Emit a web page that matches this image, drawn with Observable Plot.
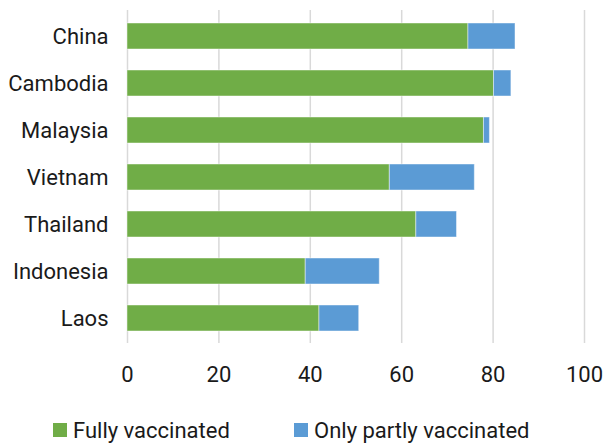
<!DOCTYPE html>
<html>
<head>
<meta charset="utf-8">
<script src="https://cdn.jsdelivr.net/npm/d3@7"></script>
<script src="https://cdn.jsdelivr.net/npm/@observablehq/plot@0.6"></script>
<style>
  body { margin: 0; background: #fff; font-family: Roboto, "Liberation Sans", sans-serif; position: relative; width: 603px; height: 443px; overflow: hidden; }
  .item { display: flex; align-items: center; position: absolute; top: 417px; height: 26px; font-size: 22px; color: #1a1a1a; white-space: nowrap; }
  .sw { width: 14px; height: 14px; margin-right: 6px; display: inline-block; }
</style>
</head>
<body>
<div id="chart"></div>
<div id="legend"></div>
<script>
const countries = ["China", "Cambodia", "Malaysia", "Vietnam", "Thailand", "Indonesia", "Laos"];
const fullyVaccinated = [74.6, 80.2, 78.0, 57.4, 63.2, 39.0, 42.0];
const partlyVaccinated = [10.3, 3.8, 1.3, 18.6, 8.9, 16.2, 8.7];
const seriesNames = ["Fully vaccinated", "Only partly vaccinated"];
const seriesColors = ["#70ad47", "#5b9bd5"];
const xTicks = [0, 20, 40, 60, 80, 100];

const rows = [];
countries.forEach((c, i) => {
  rows.push({country: c, series: seriesNames[0], value: fullyVaccinated[i]});
  rows.push({country: c, series: seriesNames[1], value: partlyVaccinated[i]});
});

const plot = Plot.plot({
  width: 603,
  height: 395,
  marginLeft: 127,
  marginRight: 19,
  marginTop: 10,
  marginBottom: 52,
  style: {fontFamily: "Roboto, sans-serif", fontSize: "22px", color: "#1a1a1a", background: "#fff"},
  x: {domain: [0, 100], ticks: xTicks, label: null},
  y: {domain: countries, label: null, paddingInner: 0.45, paddingOuter: 0.225},
  color: {domain: seriesNames, range: seriesColors},
  marks: [
    Plot.gridX(xTicks, {stroke: "#d9d9d9", strokeOpacity: 1, strokeWidth: 1.5}),
    Plot.barX(rows, Plot.stackX({
      y: "country", x: "value", fill: "series", z: "series",
      stroke: "#ffffff", strokeOpacity: 0.45, strokeWidth: 1
    })),
    Plot.axisX(xTicks, {tickSize: 0, tickPadding: 23, label: null, fontSize: "22px"}),
    Plot.axisY({tickSize: 0, tickPadding: 19, label: null, fontSize: "22px"})
  ]
});
document.getElementById("chart").appendChild(plot);

const legend = document.getElementById("legend");
const lefts = [53, 294];
seriesNames.forEach((s, i) => {
  const item = document.createElement("div");
  item.className = "item";
  item.style.left = lefts[i] + "px";
  const sw = document.createElement("span");
  sw.className = "sw";
  sw.style.background = seriesColors[i];
  item.appendChild(sw);
  item.appendChild(document.createTextNode(s));
  legend.appendChild(item);
});
</script>
</body>
</html>
